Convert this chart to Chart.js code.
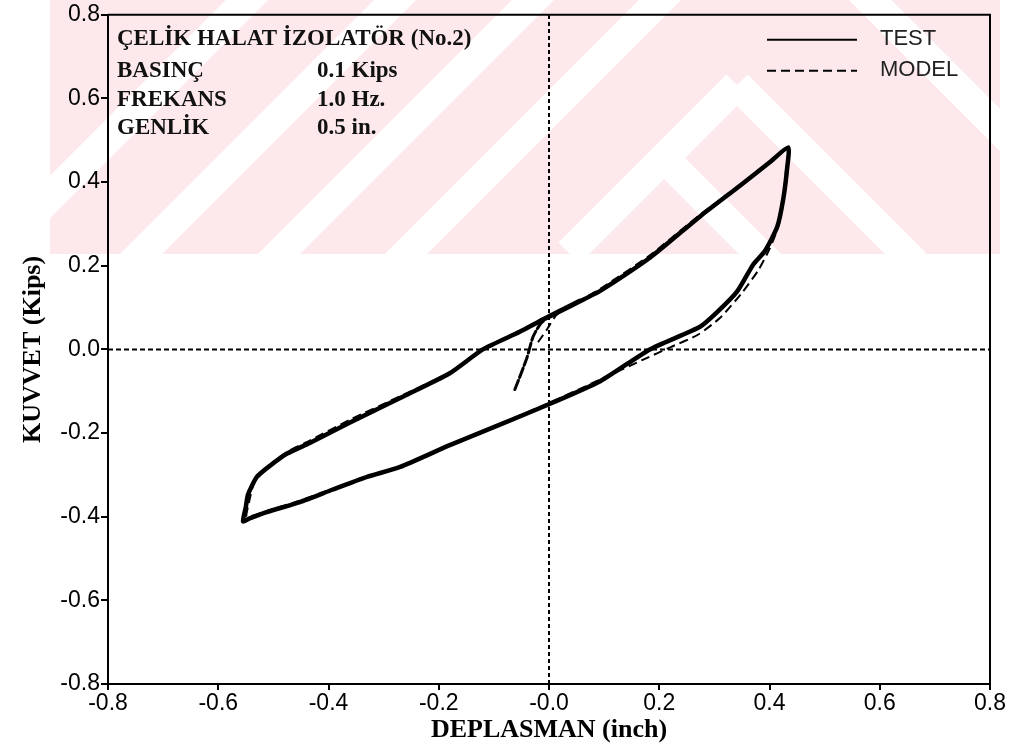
<!DOCTYPE html>
<html>
<head>
<meta charset="utf-8">
<script src="https://cdn.jsdelivr.net/npm/chart.js@4.4.1/dist/chart.umd.min.js"></script>
<style>
html,body{margin:0;padding:0;background:#fff;}
#wrap{width:1019px;height:743px;position:relative;}
</style>
</head>
<body>
<div id="wrap"><canvas id="c" width="1019" height="743"></canvas></div>
<script>
// ---- data ----
const xTicks = [-0.8, -0.6, -0.4, -0.2, 0.0, 0.2, 0.4, 0.6, 0.8];
const yTicks = [-0.8, -0.6, -0.4, -0.2, 0.0, 0.2, 0.4, 0.6, 0.8];

// TEST (solid) – displacement (inch)
const testX = [-0.062,-0.049,-0.040,-0.029,-0.015,0.002,
  0.093,0.183,0.274,0.347,0.401,0.434,
  0.432,0.425,0.414,0.392,0.370,0.341,0.305,0.274,0.183,0.093,0.000,-0.089,-0.180,-0.270,-0.330,-0.392,-0.452,-0.512,-0.543,-0.555,
  -0.550,-0.546,-0.530,-0.506,-0.475,-0.434,-0.361,-0.270,-0.180,-0.120,-0.053,0.000,0.056];
// TEST – force (Kips)
const testY = [-0.096,-0.052,-0.020,0.030,0.062,0.079,
  0.140,0.219,0.318,0.392,0.448,0.483,
  0.433,0.360,0.293,0.236,0.202,0.138,0.089,0.054,0.000,-0.076,-0.131,-0.180,-0.229,-0.281,-0.305,-0.335,-0.365,-0.389,-0.404,-0.411,
  -0.377,-0.347,-0.305,-0.278,-0.249,-0.224,-0.175,-0.116,-0.057,0.000,0.042,0.079,0.116];
const testStartSegments = 5; // initial loading part drawn thinner/broken

// MODEL (dashed)
const modelX = [-0.020,-0.004,0.015,
  0.093,0.183,0.274,0.347,0.401,0.434,
  0.430,0.425,0.415,0.400,0.380,0.350,0.310,0.270,0.220,0.170,0.093,0.000,-0.089,-0.180,-0.270,-0.392,-0.452,-0.512,-0.548,
  -0.545,-0.535,-0.510,-0.475,-0.434,-0.361,-0.270,-0.180,-0.120,-0.053,0.000];
const modelY = [0.017,0.047,0.084,
  0.145,0.225,0.322,0.394,0.450,0.480,
  0.430,0.360,0.290,0.240,0.190,0.135,0.075,0.035,0.005,-0.025,-0.072,-0.128,-0.178,-0.228,-0.280,-0.333,-0.362,-0.386,-0.400,
  -0.370,-0.320,-0.280,-0.245,-0.218,-0.168,-0.112,-0.055,0.000,0.045,0.082];

const info = [
  ["ÇELİK HALAT İZOLATÖR (No.2)", ""],
  ["BASINÇ", "0.1 Kips"],
  ["FREKANS", "1.0 Hz."],
  ["GENLİK", "0.5 in."]
];
const legendItems = [["TEST", []], ["MODEL", [9, 5]]];

// ---- build ----
const pts = (xs, ys) => xs.map((x, i) => ({x: x, y: ys[i]}));
const fmt = (v, neg) => { const r = Math.round(v * 10) / 10; if (r === 0) return neg ? '-0.0' : '0.0'; return r.toFixed(1); };

const watermark = {
  id: 'watermark',
  beforeDraw(chart) {
    const ctx = chart.ctx;
    ctx.save();
    ctx.beginPath(); ctx.rect(50, 0, 950, 254); ctx.clip();
    ctx.fillStyle = '#fde9ec';
    ctx.fillRect(50, 0, 950, 254);
    ctx.strokeStyle = '#ffffff';
    ctx.lineWidth = 30;
    ctx.lineCap = 'butt';
    const bands = [
      [[-20,267],[267,-20]],
      [[128,267],[415,-20]],
      [[266,267],[553,-20]],
      [[393,267],[680,-20]],
      [[569,253],[737,85]],
      [[663,157],[770,264]],
      [[737,85],[915,263]],
      [[850,-20],[1030,160]]
    ];
    bands.forEach(b => { ctx.beginPath(); ctx.moveTo(b[0][0], b[0][1]); for (let i = 1; i < b.length; i++) ctx.lineTo(b[i][0], b[i][1]); ctx.stroke(); });
    ctx.restore();
  }
};

const decor = {
  id: 'decor',
  afterDatasetsDraw(chart) {
    const {ctx, chartArea: a} = chart;
    ctx.save();
    // frame top/right
    ctx.strokeStyle = '#000'; ctx.lineWidth = 2; ctx.setLineDash([]);
    ctx.beginPath(); ctx.moveTo(a.left, a.top); ctx.lineTo(a.right, a.top); ctx.lineTo(a.right, a.bottom); ctx.stroke();
    // info text
    ctx.fillStyle = '#111'; ctx.textBaseline = 'middle'; ctx.textAlign = 'left';
    ctx.font = 'bold 23px "Liberation Serif", "DejaVu Serif", serif';
    const rowsY = [39, 71, 100, 128];
    info.forEach((r, i) => {
      ctx.fillText(r[0], a.left + 9, rowsY[i]);
      if (r[1]) ctx.fillText(r[1], a.left + 209, rowsY[i]);
    });
    // legend
    ctx.font = '22px "Liberation Sans", Arial, sans-serif';
    ctx.fillStyle = '#222';
    legendItems.forEach((it, i) => {
      const y = a.top + 25 + i * 31;
      ctx.strokeStyle = '#000'; ctx.lineWidth = 2; ctx.setLineDash(it[1]);
      ctx.beginPath(); ctx.moveTo(a.right - 223, y); ctx.lineTo(a.right - 133, y); ctx.stroke();
      ctx.setLineDash([]);
      ctx.fillText(it[0], a.right - 110, y - 1);
    });
    ctx.restore();
  }
};

new Chart(document.getElementById('c'), {
  type: 'scatter',
  data: {
    datasets: [
      {label: 'zx', data: [{x: -0.8, y: 0}, {x: 0.8, y: 0}], showLine: true, borderColor: '#000', borderWidth: 2, borderDash: [5, 3], pointRadius: 0},
      {label: 'zy', data: [{x: 0, y: -0.8}, {x: 0, y: 0.8}], showLine: true, borderColor: '#000', borderWidth: 2, borderDash: [4, 3], pointRadius: 0},
      {label: 'MODEL', data: pts(modelX, modelY), showLine: true, borderColor: '#000', borderWidth: 2, borderDash: [9, 5], pointRadius: 0, tension: 0.2},
      {label: 'TEST', data: pts(testX, testY), showLine: true, borderColor: '#000', borderWidth: 4.5, pointRadius: 0, tension: 0.2, borderJoinStyle: 'round', borderCapStyle: 'round',
        segment: {
          borderWidth: c => c.p0DataIndex < testStartSegments ? 3 : undefined,
          borderDash: c => c.p0DataIndex < testStartSegments ? [10, 3] : undefined
        }}
    ]
  },
  options: {
    responsive: false,
    animation: false,
    layout: {padding: {top: 14, right: 29, left: 0, bottom: 0}},
    plugins: {legend: {display: false}, tooltip: {enabled: false}},
    scales: {
      x: {
        type: 'linear', min: -0.8, max: 0.8,
        afterBuildTicks: s => { s.ticks = xTicks.map(v => ({value: v})); },
        afterFit: s => { s.height = 59; },
        ticks: {callback: v => fmt(v, true), color: '#000', padding: 0, maxRotation: 0, font: {family: '"Liberation Sans", Arial, sans-serif', size: 23}},
        grid: {display: true, drawOnChartArea: false, tickLength: 6, color: '#000', lineWidth: 2},
        border: {display: true, color: '#000', width: 2},
        title: {display: true, text: 'DEPLASMAN (inch)', color: '#000', padding: {top: 0, bottom: 0}, font: {family: '"Liberation Serif", "Times New Roman", serif', size: 26, weight: 'bold', lineHeight: 1}}
      },
      y: {
        type: 'linear', min: -0.8, max: 0.8,
        afterBuildTicks: s => { s.ticks = yTicks.map(v => ({value: v})); },
        afterFit: s => { s.width = 108; },
        ticks: {callback: v => fmt(v, false), color: '#000', padding: 1, font: {family: '"Liberation Sans", Arial, sans-serif', size: 23}},
        grid: {display: true, drawOnChartArea: false, tickLength: 7, color: '#000', lineWidth: 2},
        border: {display: true, color: '#000', width: 2},
        title: {display: true, text: 'KUVVET (Kips)', color: '#000', padding: {top: 20, bottom: 0}, font: {family: '"Liberation Serif", "Times New Roman", serif', size: 26, weight: 'bold', lineHeight: 1}}
      }
    }
  },
  plugins: [watermark, decor]
});
</script>
</body>
</html>
